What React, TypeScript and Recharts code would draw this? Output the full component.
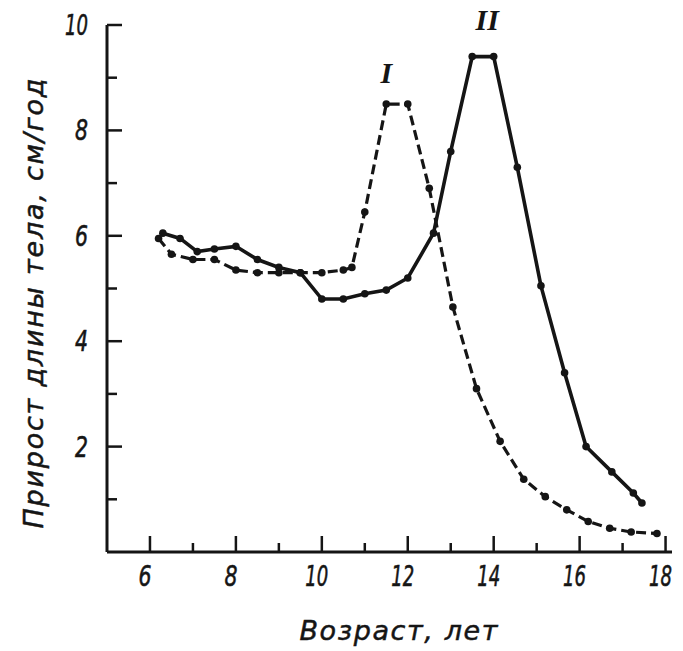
import React from 'react'
import { LineChart, Line, XAxis, YAxis, ReferenceDot } from 'recharts'

// curve I (dashed) and curve II (solid): [age, cm/year]
const ageI = [6.2, 6.5, 7.0, 7.5, 8.0, 8.5, 9.0, 9.5, 10.0, 10.5, 10.7, 11.0, 11.5, 12.0, 12.5, 13.05, 13.6, 14.15, 14.7, 15.2, 15.7, 16.2, 16.7, 17.2, 17.8]
const valI = [5.95, 5.65, 5.55, 5.55, 5.35, 5.3, 5.3, 5.3, 5.3, 5.35, 5.4, 6.45, 8.5, 8.5, 6.9, 4.65, 3.1, 2.1, 1.38, 1.05, 0.8, 0.58, 0.45, 0.38, 0.35]

const ageII = [6.3, 6.7, 7.1, 7.5, 8.0, 8.5, 9.0, 9.5, 10.0, 10.5, 11.0, 11.5, 12.0, 12.6, 13.0, 13.5, 14.0, 14.55, 15.1, 15.65, 16.15, 16.75, 17.25, 17.45]
const valII = [6.05, 5.95, 5.7, 5.75, 5.8, 5.55, 5.4, 5.3, 4.8, 4.8, 4.9, 4.97, 5.2, 6.05, 7.6, 9.4, 9.4, 7.3, 5.05, 3.4, 2.0, 1.52, 1.12, 0.93]

const xTicks = [6, 7, 8, 9, 10, 11, 12, 13, 14, 15, 16, 17, 18]
const yTicks = [1, 2, 3, 4, 5, 6, 7, 8, 9, 10]

const dataI = ageI.map((a, i) => ({ age: a, v: valI[i] }))
const dataII = ageII.map((a, i) => ({ age: a, v: valII[i] }))

const INK = '#151515'
const font = "'DejaVu Sans', sans-serif"

// squeeze digits to look like the condensed drafting font
const Num = ({ x, y, anchor, value }: any) => {
  const s = String(value)
  return (
    <text x={x} y={y} textAnchor={anchor} dominantBaseline="central"
      fontFamily={font} fontStyle="italic" fontSize={29} fill={INK}
      stroke={INK} strokeWidth={0.6}
      textLength={s.length > 1 ? 23 : 13} lengthAdjust="spacingAndGlyphs">
      {s}
    </text>
  )
}

const XTick = ({ x, y, payload }: any) => {
  const major = payload.value % 2 === 0
  return (
    <g>
      <line x1={x} x2={x} y1={y} y2={y - (major ? 16 : 9)} stroke={INK} strokeWidth={2.5} />
      {major && <Num x={x - 5} y={y + 24} anchor="middle" value={payload.value} />}
    </g>
  )
}

const YTick = ({ x, y, payload }: any) => {
  const major = payload.value % 2 === 0
  return (
    <g>
      <line x1={x} x2={x + (major ? 15 : 10)} y1={y} y2={y} stroke={INK} strokeWidth={2.5} />
      {major && <Num x={x - 19} y={y} anchor="end" value={payload.value} />}
    </g>
  )
}

const Dot = ({ cx, cy }: any) => <circle cx={cx} cy={cy} r={3.8} fill={INK} />

const YTitle = ({ viewBox }: any) => {
  const cx = viewBox.x + viewBox.width - 74
  const cy = viewBox.y + viewBox.height / 2 + 15
  return (
    <text x={cx} y={cy} transform={`rotate(-90 ${cx} ${cy})`} textAnchor="middle" dominantBaseline="central"
      fontFamily={font} fontStyle="italic" fontSize={27} fill={INK} stroke={INK} strokeWidth={0.5}
      textLength={450} lengthAdjust="spacing">
      Прирост длины тела, см/год
    </text>
  )
}

const XTitle = ({ viewBox }: any) => (
  <text x={viewBox.x + viewBox.width / 2 + 9} y={viewBox.y + 78} textAnchor="middle" dominantBaseline="central"
    fontFamily={font} fontStyle="italic" fontSize={27} fill={INK} stroke={INK} strokeWidth={0.5}
    textLength={198} lengthAdjust="spacing">
    Возраст, лет
  </text>
)

const CurveLabel = (text: string) => ({ viewBox }: any) => (
  <text x={viewBox.x + viewBox.width / 2} y={viewBox.y + viewBox.height / 2} textAnchor="middle" dominantBaseline="central"
    fontFamily="'Liberation Serif', serif" fontStyle="italic" fontWeight="bold" fontSize={30} fill={INK}>
    {text}
  </text>
)

export default function App() {
  return (
    <div style={{ marginTop: -8 }}>
      <LineChart width={675} height={651} margin={{ top: 25, right: 11, left: 39, bottom: 59 }}>
        <XAxis
          type="number"
          dataKey="age"
          domain={[5, 18.15]}
          ticks={xTicks}
          allowDataOverflow
          tick={<XTick />}
          tickLine={false}
          tickSize={0}
          tickMargin={0}
          height={40}
          axisLine={{ stroke: INK, strokeWidth: 3 }}
          label={<XTitle />}
          interval={0}
        />
        <YAxis
          type="number"
          dataKey="v"
          domain={[0, 10]}
          ticks={yTicks}
          tick={<YTick />}
          tickLine={false}
          tickSize={0}
          tickMargin={0}
          width={60}
          axisLine={{ stroke: INK, strokeWidth: 3 }}
          label={<YTitle />}
          interval={0}
        />
        <Line
          data={dataI}
          dataKey="v"
          type="linear"
          stroke={INK}
          strokeWidth={3.2}
          strokeDasharray="10 5"
          dot={<Dot />}
          activeDot={false}
          isAnimationActive={false}
        />
        <Line
          data={dataII}
          dataKey="v"
          type="linear"
          stroke={INK}
          strokeWidth={3.6}
          dot={<Dot />}
          activeDot={false}
          isAnimationActive={false}
        />
        <ReferenceDot x={11.5} y={9.1} r={0} ifOverflow="visible" label={CurveLabel('I')} />
        <ReferenceDot x={13.85} y={10.1} r={0} ifOverflow="visible" label={CurveLabel('II')} />
      </LineChart>
    </div>
  )
}
